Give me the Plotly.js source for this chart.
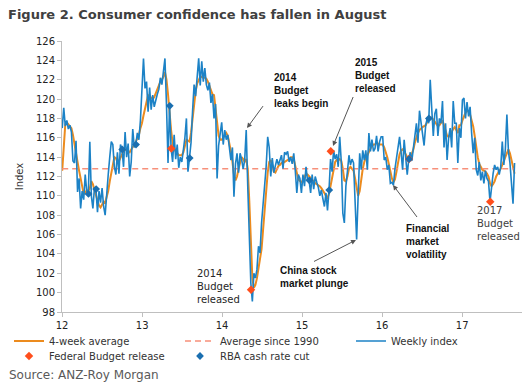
<!DOCTYPE html>
<html>
<head>
<meta charset="utf-8">
<script src="https://cdn.plot.ly/plotly-3.0.1.min.js"></script>
<style>
  html, body { margin: 0; padding: 0; background: #ffffff; }
  #chart { width: 529px; height: 389px; }
</style>
</head>
<body>
<div id="chart"></div>
<script>
// ---------------- DATA ----------------
const weeklyStart = '2012-01-02';   // first weekly observation, one value per week after it

const weekly2012 = [117.0, 119.1, 117.2, 117.8, 116.9, 117.3, 116.6, 113.6, 113.4, 115.7,
  110.4, 111.8, 108.7, 110.5, 109.6, 112.2, 110.5, 110.2, 115.6, 110.0,
  108.7, 110.8, 110.7, 108.3, 110.5, 109.3, 110.8, 108.9, 108.0, 110.5,
  112.2, 114.0, 115.6, 115.3, 113.0, 112.2, 114.5, 112.3, 115.3, 114.8,
  113.0, 116.6, 114.0, 115.4, 112.0, 113.5, 116.9, 115.0, 115.3, 116.5,
  115.8, 117.8];
const weekly2013 = [122.0, 124.2, 121.1, 121.8, 118.7, 121.2, 118.9, 120.4, 119.2, 120.0,
  120.5, 121.0, 122.2, 121.5, 123.2, 124.2, 119.4, 113.4, 119.3, 114.9,
  113.5, 116.3, 113.8, 115.3, 112.9, 114.0, 113.5, 114.6, 116.0, 118.0,
  112.5, 113.9, 115.5, 118.7, 121.5, 120.3, 122.8, 124.2, 121.4, 123.9,
  121.8, 123.2, 121.5, 120.9, 121.7, 119.6, 120.5, 118.0, 119.5, 111.8,
  115.2, 116.3];
const weekly2014 = [117.6, 115.3, 116.8, 115.8, 116.3, 115.0, 113.7, 115.0, 109.9, 113.3,
  114.4, 112.4, 114.4, 113.8, 112.8, 113.7, 116.8, 111.0, 105.5, 101.0,
  99.1, 102.0, 101.5, 102.4, 104.8, 104.1, 107.2, 109.0, 111.6, 113.0,
  116.1, 115.0, 112.0, 113.9, 112.4, 113.1, 113.8, 113.2, 113.6, 114.2,
  112.8, 114.5, 114.3, 114.6, 113.5, 114.0, 113.3, 114.4, 112.6, 110.3,
  112.2, 111.8];
const weekly2015 = [110.3, 112.2, 111.0, 113.0, 111.6, 111.6, 110.3, 112.2, 110.7, 112.0,
  111.4, 110.9, 110.0, 110.6, 109.7, 108.9, 110.3, 108.5, 110.6, 113.8,
  112.5, 114.7, 113.8, 114.3, 113.0, 116.1, 113.5, 108.2, 107.2, 111.0,
  112.5, 114.2, 113.2, 113.8, 113.4, 109.6, 105.5, 110.0, 114.4, 112.7,
  114.7, 113.7, 114.7, 112.7, 116.5, 114.6, 115.8, 114.6, 114.9, 116.2,
  114.6, 115.6];
const weekly2016 = [116.1, 116.1, 113.7, 114.0, 112.7, 113.2, 111.3, 111.4, 111.1, 112.8,
  113.8, 115.0, 116.1, 114.5, 112.7, 115.8, 113.7, 112.2, 113.8, 114.5,
  113.6, 115.2, 116.2, 117.5, 115.5, 118.8, 117.5, 116.5, 115.2, 117.2,
  118.0, 117.5, 122.0, 119.0, 116.2, 118.5, 119.0, 116.2, 118.0, 117.5,
  119.8, 115.0, 117.5, 113.7, 116.0, 117.0, 115.0, 119.8, 117.5, 117.5,
  113.4, 117.0];
const weekly2017 = [116.0, 119.9, 120.1, 118.0, 119.7, 118.2, 119.2, 116.5, 114.4, 116.0,
  112.7, 112.1, 113.5, 111.6, 112.5, 111.3, 112.6, 111.8, 111.5, 109.4,
  111.0, 112.3, 113.2, 112.7, 113.0, 112.2, 113.0, 115.6, 113.2, 114.8,
  118.4, 114.6, 113.4, 111.6, 109.2, 113.4];

const avg2012 = [112.6, 115.5, 117.4, 117.6, 117.4, 117.3, 117.0, 116.3, 115.2, 114.3,
  113.5, 112.6, 111.7, 110.8, 110.2, 110.3, 110.6, 110.5, 110.8, 111.5,
  111.2, 110.6, 110.0, 109.5, 109.0, 108.8, 109.2, 109.4, 109.3, 109.8,
  110.5, 111.5, 112.5, 113.3, 114.0, 113.9, 113.5, 113.6, 114.0, 114.2,
  114.6, 114.8, 114.7, 114.6, 114.5, 114.8, 115.0, 115.3, 115.6, 116.0,
  116.3, 117.0];
const avg2013 = [117.5, 118.3, 119.0, 119.8, 120.4, 120.3, 120.1, 120.0, 120.2, 120.6,
  121.0, 121.5, 121.8, 122.0, 122.3, 122.8, 122.0, 120.5, 118.5, 116.8,
  115.5, 114.8, 114.6, 114.4, 114.2, 114.2, 114.2, 114.5, 115.3, 115.8,
  115.7, 115.6, 116.5, 118.0, 119.5, 120.8, 121.6, 122.0, 122.3, 122.3,
  122.2, 122.2, 122.1, 121.8, 121.3, 120.8, 120.5, 120.4, 119.0, 117.0,
  116.2, 115.8];
const avg2014 = [115.8, 116.0, 116.3, 116.5, 116.2, 115.5, 114.6, 113.5, 112.2, 111.6,
  112.0, 112.8, 113.5, 114.0, 113.8, 113.5, 113.8, 112.8, 109.5, 105.0,
  101.5, 100.5, 100.8, 101.5, 102.5, 103.5, 104.5, 106.5, 108.5, 110.6,
  112.4, 113.5, 113.7, 113.2, 112.5, 112.4, 112.8, 113.1, 113.2, 113.4,
  113.4, 113.5, 113.6, 113.7, 113.8, 114.0, 114.0, 113.8, 113.2, 112.4,
  111.7, 111.5];
const avg2015 = [111.4, 111.6, 112.0, 112.3, 112.2, 112.0, 111.8, 111.6, 111.4, 111.3,
  111.2, 111.1, 111.0, 110.8, 110.6, 110.3, 110.0, 109.8, 110.2, 111.0,
  112.2, 113.0, 113.5, 113.7, 113.7, 113.8, 113.6, 112.8, 111.6, 111.5,
  112.0, 112.8, 113.0, 112.8, 112.6, 111.8, 110.8, 110.0, 110.5, 111.8,
  112.8, 113.5, 114.0, 114.2, 114.6, 115.0, 115.2, 115.3, 115.3, 115.5,
  115.4, 115.3];
const avg2016 = [115.3, 115.3, 115.0, 114.6, 114.0, 113.3, 112.5, 111.8, 111.4, 111.7,
  112.5, 113.5, 114.3, 114.7, 114.8, 114.6, 114.3, 114.0, 113.7, 113.9,
  114.3, 114.8, 115.5, 116.1, 116.5, 116.8, 117.0, 117.1, 117.2, 117.3,
  117.6, 117.9, 118.1, 118.1, 117.9, 117.6, 117.4, 117.2, 117.3, 117.6,
  117.8, 117.3, 116.6, 116.2, 116.1, 116.3, 116.6, 116.9, 117.1, 116.8,
  116.5, 117.3];
const avg2017 = [117.3, 117.8, 118.3, 118.6, 118.8, 118.7, 118.4, 117.9, 117.2, 116.2,
  115.0, 114.0, 113.3, 112.9, 112.7, 112.6, 112.5, 112.3, 112.0, 111.3,
  111.0, 111.2, 111.5, 112.0, 112.4, 112.6, 112.8, 113.2, 113.6, 114.0,
  114.6, 114.8, 114.4, 113.8, 113.0, 112.3];

const averageSince1990 = 112.8;

const budgetDates  = ['2013-05-14', '2014-05-13', '2015-05-12', '2016-05-03', '2017-05-09'];
const budgetValues = [114.9, 100.3, 114.6, 113.8, 109.4];

const rbaDates  = ['2012-05-01', '2012-06-05', '2012-10-02', '2012-12-04', '2013-05-07',
                   '2013-08-06', '2015-02-03', '2015-05-05', '2016-05-03', '2016-08-02'];
const rbaValues = [110.2, 110.7, 114.8, 115.3, 119.3, 113.9, 111.6, 110.6, 113.8, 118.0];

const yearTickVals = ['2012-01-01', '2013-01-01', '2014-01-01', '2015-01-01', '2016-01-01', '2017-01-01'];
const yearTickText = ['12', '13', '14', '15', '16', '17'];
const yTickVals = [98, 100, 102, 104, 106, 108, 110, 112, 114, 116, 118, 120, 122, 124, 126];

// ---------------- BUILD ----------------
const weekly = [].concat(weekly2012, weekly2013, weekly2014, weekly2015, weekly2016, weekly2017);
const avg4 = [].concat(avg2012, avg2013, avg2014, avg2015, avg2016, avg2017);
const DAY = 86400000;
const t0 = Date.parse(weeklyStart + 'T00:00:00Z');
const weekDates = weekly.map((_, i) => new Date(t0 + i * 7 * DAY).toISOString().slice(0, 10));

const FONT = 'DejaVu Sans, Verdana, sans-serif';
const BOLDFONT = 'Liberation Sans, Arial, sans-serif';

// plot-area pixel frame, used only to place text/arrows
const PL = 62, PR = 522, PT = 41, PB = 312;
const px = x => (x - PL) / (PR - PL);
const py = y => (PB - y) / (PB - PT);

const traces = [
  { type: 'scatter', mode: 'lines', name: '4-week average', x: weekDates, y: avg4,
    line: { color: '#EC8B1E', width: 2 }, legend: 'legend' },
  { type: 'scatter', mode: 'lines', name: 'Average since 1990',
    x: [weekDates[0], weekDates[weekDates.length - 1]], y: [averageSince1990, averageSince1990],
    line: { color: '#F7907A', width: 1.5, dash: '6px,4px' }, legend: 'legend' },
  { type: 'scatter', mode: 'lines', name: 'Weekly index', x: weekDates, y: weekly,
    line: { color: '#1C82C6', width: 1.6 }, legend: 'legend' },
  { type: 'scatter', mode: 'markers', name: 'Federal Budget release', x: budgetDates, y: budgetValues,
    marker: { symbol: 'diamond', size: 6.5, color: '#FF4E1C' }, legend: 'legend2' },
  { type: 'scatter', mode: 'markers', name: 'RBA cash rate cut', x: rbaDates, y: rbaValues,
    marker: { symbol: 'diamond', size: 6, color: '#1A6FB0' }, legend: 'legend2' }
];

function textNote(text, x, y, bold, color) {
  return { xref: 'paper', yref: 'paper', x: px(x), y: py(y), xanchor: 'left', yanchor: 'middle',
    align: 'left', showarrow: false, text: text,
    font: bold ? { family: BOLDFONT, size: 10, color: color, weight: 'bold' }
               : { family: FONT, size: 10, color: color } };
}
function arrowNote(tipX, tipY, tailX, tailY) {
  return { xref: 'paper', yref: 'paper', x: px(tipX), y: py(tipY), ax: tailX - tipX, ay: tailY - tipY,
    text: ' ', showarrow: true, arrowhead: 2, arrowsize: 1, arrowwidth: 1, arrowcolor: '#555555',
    standoff: 0, startstandoff: 0 };
}

const annotations = [
  textNote('2014<br>Budget<br>leaks begin', 272, 90.5, true, '#111111'),
  textNote('2015<br>Budget<br>released', 353, 75, true, '#111111'),
  textNote('2014<br>Budget<br>released', 195, 286, false, '#262626'),
  textNote('China stock<br>market plunge', 278, 277, true, '#111111'),
  textNote('Financial<br>market<br>volatility', 404, 241, true, '#111111'),
  textNote('2017<br>Budget<br>released', 475, 223, false, '#404040'),
  arrowNote(247, 128, 266, 102),
  arrowNote(333, 146, 356, 90),
  arrowNote(356, 240, 311, 263),
  arrowNote(393, 185, 420, 221),
  { xref: 'paper', yref: 'paper', x: px(7), y: py(375), xanchor: 'left', yanchor: 'middle',
    showarrow: false, text: 'Source: ANZ-Roy Morgan', font: { family: FONT, size: 12, color: '#595959' } }
];

const legendCommon = {
  orientation: 'h', xanchor: 'left', yanchor: 'top', x: px(9),
  itemwidth: 30, entrywidth: 126, entrywidthmode: 'pixels',
  font: { family: FONT, size: 10, color: '#333333' }, bgcolor: 'rgba(0,0,0,0)', borderwidth: 0,
  traceorder: 'normal'
};

const layout = {
  width: 529, height: 389,
  margin: { l: PL, r: 529 - PR, t: PT, b: 389 - PB, autoexpand: false },
  paper_bgcolor: '#ffffff', plot_bgcolor: '#ffffff',
  font: { family: FONT, size: 10, color: '#333333' },
  title: { text: 'Figure 2. Consumer confidence has fallen in August',
    font: { family: FONT, size: 13, color: '#404040', weight: 'bold' },
    xref: 'container', yref: 'container', x: 8 / 529, xanchor: 'left', y: 1 - 14 / 389, yanchor: 'middle' },
  xaxis: {
    type: 'date', range: ['2012-01-01', '2017-10-01'],
    tickvals: yearTickVals, ticktext: yearTickText,
    ticks: 'outside', ticklen: 4, tickcolor: '#BFBFBF', tickwidth: 1,
    showline: true, linecolor: '#BFBFBF', linewidth: 1,
    showgrid: false, zeroline: false,
    tickfont: { family: FONT, size: 10, color: '#222222' }
  },
  yaxis: {
    range: [98, 126], tickvals: yTickVals,
    ticks: 'outside', ticklen: 4, tickcolor: '#BFBFBF', tickwidth: 1,
    showline: true, linecolor: '#BFBFBF', linewidth: 1,
    showgrid: false, zeroline: false,
    tickfont: { family: FONT, size: 10, color: '#222222' },
    title: { text: 'Index', font: { family: FONT, size: 10, color: '#333333' }, standoff: 10 }
  },
  legend: Object.assign({}, legendCommon, { y: py(326.5) }),
  legend2: Object.assign({}, legendCommon, { y: py(341.5) }),
  showlegend: true,
  hovermode: false,
  annotations: annotations
};

Plotly.newPlot('chart', traces, layout, { staticPlot: true, displayModeBar: false });
</script>
</body>
</html>
